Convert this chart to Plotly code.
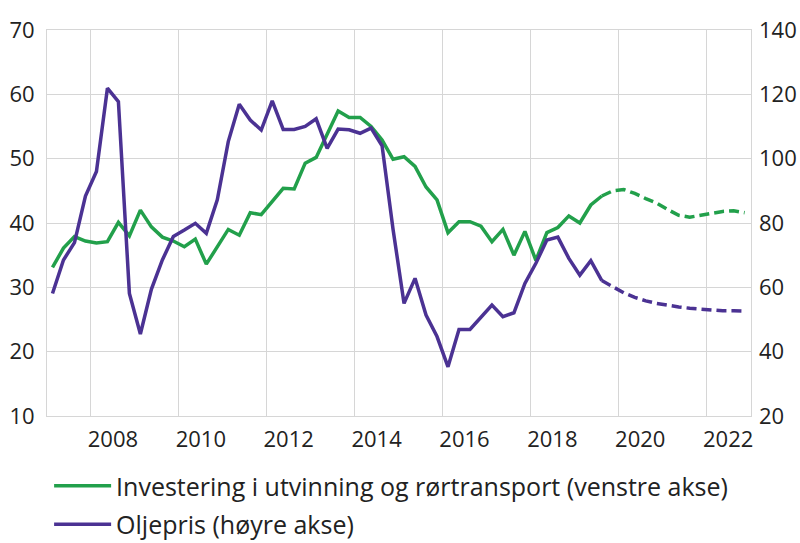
import plotly.graph_objects as go

# quarterly values, 2007Q1 - 2022Q4 (from 2019Q3 on: projection, dashed)
years = list(range(2007, 2023))
investering = [33.1, 36.1, 37.9, 37.2, 36.9, 37.1, 40.1, 38.0,
               42.0, 39.4, 37.8, 37.2, 36.3, 37.5, 33.6, 36.3,
               39.0, 38.1, 41.6, 41.3, 43.3, 45.4, 45.3, 49.3,
               50.2, 53.9, 57.4, 56.4, 56.4, 55.0, 52.9, 49.9,
               50.3, 48.8, 45.6, 43.6, 38.5, 40.2, 40.2, 39.5,
               37.1, 39.0, 35.0, 38.7, 34.2, 38.5, 39.3, 41.1,
               40.0, 42.8, 44.2, 45.0, 45.2, 44.6, 43.8, 43.1,
               42.1, 41.2, 40.9, 41.2, 41.5, 41.8, 41.9, 41.6]
oljepris = [58.1, 68.5, 73.9, 88.4, 96.0, 121.9, 117.7, 58.1,
            45.5, 59.4, 68.5, 75.8, 77.8, 79.9, 76.8, 87.2,
            105.3, 116.9, 112.0, 108.9, 118.0, 109.1, 109.1, 110.0,
            112.4, 103.2, 109.2, 109.0, 107.9, 109.5, 104.0, 78.0,
            55.0, 62.8, 51.4, 44.7, 35.3, 46.9, 46.9, 50.9,
            54.5, 50.9, 52.1, 61.2, 67.5, 74.7, 75.6, 69.0,
            63.8, 68.3, 62.1, 60.2, 58.3, 56.9, 55.8, 55.0,
            54.4, 53.9, 53.5, 53.2, 53.0, 52.7, 52.7, 52.6]
n_actual = 51  # index 50 = 2019Q3, last actual

x = [y + (q - 0.5) / 4 for y in years for q in range(1, 5)]

green = '#22a04b'
purple = '#4b3293'
grid = '#d6d6d6'
txt = '#222222'
FONT = 'Open Sans'

fig = go.Figure()
fig.add_trace(go.Scatter(x=x[:n_actual], y=investering[:n_actual], mode='lines',
                         line=dict(color=green, width=3.5),
                         name='Investering i utvinning og rørtransport (venstre akse)',
                         legendgroup='a'))
fig.add_trace(go.Scatter(x=x[n_actual - 1:], y=investering[n_actual - 1:], mode='lines',
                         line=dict(color=green, width=3.5, dash='10px,5px'),
                         showlegend=False, legendgroup='a'))
fig.add_trace(go.Scatter(x=x[:n_actual], y=oljepris[:n_actual], mode='lines',
                         line=dict(color=purple, width=3.5),
                         name='Oljepris (høyre akse)', yaxis='y2', legendgroup='b'))
fig.add_trace(go.Scatter(x=x[n_actual - 1:], y=oljepris[n_actual - 1:], mode='lines',
                         line=dict(color=purple, width=3.5, dash='10px,5px'),
                         showlegend=False, yaxis='y2', legendgroup='b'))

even = list(range(2008, 2023, 2))
fig.update_layout(
    width=800, height=543,
    margin=dict(l=47, r=49, t=30, b=127, autoexpand=False),
    paper_bgcolor='white', plot_bgcolor='white',
    font=dict(family=FONT, size=22, color=txt),
    xaxis=dict(range=[2007, 2023.02], tickvals=[v + 0.5 for v in even],
               ticktext=[str(v) for v in even], showgrid=False, ticks='',
               showline=True, mirror=True, linecolor=grid, linewidth=1,
               minor=dict(tickvals=even, showgrid=True, gridcolor=grid, gridwidth=1),
               zeroline=False, ticklabelstandoff=4),
    yaxis=dict(range=[10, 70], dtick=10, showgrid=True, gridcolor=grid,
               showline=True, mirror=True, linecolor=grid, zeroline=False, ticks='',
               ticklabelstandoff=7),
    yaxis2=dict(range=[20, 140], dtick=20, overlaying='y', side='right',
                showgrid=False, zeroline=False, ticks='', ticklabelstandoff=7),
    legend=dict(orientation='v', x=0.003, xanchor='left', y=-0.122, yanchor='top',
                traceorder='grouped', tracegroupgap=3, itemwidth=57,
                font=dict(size=25)),
    showlegend=True,
)

# drop the page's default body margin so the figure sits at (0, 0)
fig.write_html("out.html", config={'displayModeBar': False},
               post_script="document.body.style.margin='0';")
